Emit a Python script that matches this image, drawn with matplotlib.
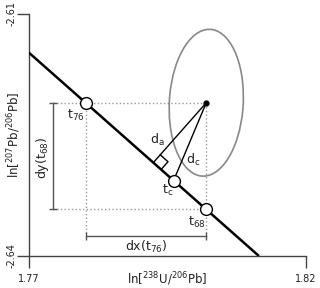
import numpy as np
import matplotlib
matplotlib.use('Agg')
import matplotlib.pyplot as plt
from matplotlib.patches import Ellipse

# axis ranges and tick labels
x_lim = [1.77, 1.82]
y_lim = [-2.64, -2.61]
x_ticklabels = ['1.77', '1.82']
y_ticklabels = ['-2.64', '-2.61']

# concordia segment (end points)
line_x = [1.77, 1.8115]
line_y = [-2.6148, -2.64]

# measurement and its error ellipse
meas_x = 1.8020
meas_y = -2.6210
sig_x = 0.0067
sig_y = 0.0091
rho = 0.08

# x of the closest point t_c on the line
tc_x = 1.7961

# positions of the dx / dy bars
dy_bar_x = 1.7743
dx_bar_y = -2.6375

slope = (line_y[1] - line_y[0]) / (line_x[1] - line_x[0])
f = lambda x: line_y[0] + slope * (x - line_x[0])
finv = lambda y: line_x[0] + (y - line_y[0]) / slope

t76 = (finv(meas_y), meas_y)
t68 = (meas_x, f(meas_x))
tc = (tc_x, f(tc_x))

fig = plt.figure(figsize=(3.2, 2.88), dpi=100)
ax = fig.add_axes([29/320, 32/288, 277/320, 242/288])
ax.set_xlim(x_lim)
ax.set_ylim(y_lim)

axcol = '#444444'
for s in ['top', 'right']:
    ax.spines[s].set_visible(False)
for s in ['left', 'bottom']:
    ax.spines[s].set_linewidth(1)
    ax.spines[s].set_color(axcol)
ax.set_xticks(x_lim)
ax.set_xticklabels(x_ticklabels)
ax.set_yticks(y_lim)
ax.set_yticklabels(y_ticklabels, rotation=90, va='center')
ax.tick_params(direction='out', length=8.6, width=1, color=axcol,
               labelsize=7, labelcolor='#222222')
ax.tick_params(axis='x', pad=4)
ax.tick_params(axis='y', pad=0.5)
ax.set_xlabel(r'ln[$^{\mathregular{238}}$U/$^{\mathregular{206}}$Pb]', fontsize=8.5,
              color='#222222', va='center')
ax.set_ylabel(r'ln[$^{\mathregular{207}}$Pb/$^{\mathregular{206}}$Pb]', fontsize=8.5,
              color='#222222', va='center')
ax.xaxis.set_label_coords(0.5, -0.095)
ax.yaxis.set_label_coords(-0.054, 0.5)

# error ellipse
cov = np.array([[sig_x**2, rho*sig_x*sig_y], [rho*sig_x*sig_y, sig_y**2]])
vals, vecs = np.linalg.eigh(cov)
ang = np.degrees(np.arctan2(vecs[1, 1], vecs[0, 1]))
ax.add_patch(Ellipse((meas_x, meas_y), 2*np.sqrt(vals[1]), 2*np.sqrt(vals[0]),
                     angle=ang, fill=False, edgecolor='#888888', lw=1.2, zorder=2))

# dotted guides
dot = dict(color='#999999', ls=':', lw=1, zorder=1)
ax.plot([dy_bar_x, meas_x], [meas_y, meas_y], **dot)
ax.plot([dy_bar_x, t68[0]], [t68[1], t68[1]], **dot)
ax.plot([t76[0], t76[0]], [meas_y, dx_bar_y], **dot)
ax.plot([meas_x, meas_x], [meas_y, dx_bar_y], **dot)

# dx / dy bars
bar = dict(color='#555555', lw=1, ms=6, mew=1, zorder=2)
ax.plot([dy_bar_x, dy_bar_x], [meas_y, t68[1]], marker='_', **bar)
ax.plot([t76[0], meas_x], [dx_bar_y, dx_bar_y], marker='|', **bar)

# the line
ax.plot(line_x, line_y, color='black', lw=1.8, zorder=3, solid_capstyle='butt')

# perpendicular foot, computed in display space
T = ax.transData
P = T.transform((meas_x, meas_y))
A = T.transform((line_x[0], line_y[0]))
B = T.transform((line_x[1], line_y[1]))
u = (B - A) / np.linalg.norm(B - A)
F = A + np.dot(P - A, u) * u
n = (P - F) / np.linalg.norm(P - F)
side = 7.5 * fig.dpi / 72
sq = np.array([F + side*n, F + side*n + side*u, F + side*u])
sq = T.inverted().transform(sq)
foot = T.inverted().transform(F)
ax.plot(sq[:, 0], sq[:, 1], color='black', lw=1, zorder=3)
ax.plot([meas_x, foot[0]], [meas_y, foot[1]], color='black', lw=1, zorder=3)
ax.plot([meas_x, tc[0]], [meas_y, tc[1]], color='black', lw=1, zorder=3)

# points
ax.plot(meas_x, meas_y, 'o', color='black', ms=3.5, zorder=5)
for p in [t76, t68, tc]:
    ax.plot(p[0], p[1], 'o', mfc='white', mec='black', mew=1, ms=8.5, zorder=5)

# labels
txt = dict(fontsize=9, color='#222222', ha='center', va='center', textcoords='offset points')
ax.annotate(r't$_{\mathregular{76}}$', t76, xytext=(-7, -9.5), **txt)
ax.annotate(r't$_{\mathregular{68}}$', t68, xytext=(-7, -9), **txt)
ax.annotate(r't$_{\mathregular{c}}$', tc, xytext=(-4, -7), **txt)
mid_a = ((meas_x + foot[0]) / 2, (meas_y + foot[1]) / 2)
mid_c = ((meas_x + tc[0]) / 2, (meas_y + tc[1]) / 2)
ax.annotate(r'd$_{\mathregular{a}}$', mid_a, xytext=(-16, -5.5), **txt)
ax.annotate(r'd$_{\mathregular{c}}$', mid_c, xytext=(2, -13), **txt)
ax.annotate(r'dy(t$_{\mathregular{68}}$)', (dy_bar_x, (meas_y + t68[1]) / 2),
            xytext=(-7.5, -1), rotation=90, **txt)
ax.annotate(r'dx(t$_{\mathregular{76}}$)', ((t76[0] + meas_x) / 2, dx_bar_y),
            xytext=(0, -8), **txt)

fig.savefig('out.png', dpi=100, facecolor='white')
